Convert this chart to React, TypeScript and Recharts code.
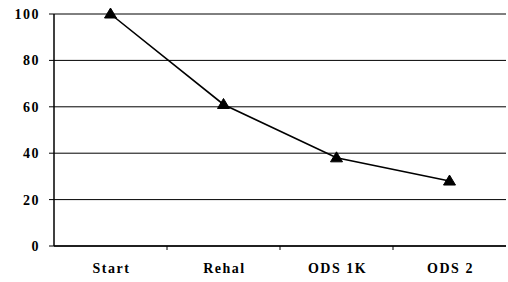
import { LineChart, Line, XAxis, YAxis, CartesianGrid } from 'recharts';

const stages = ['Start', 'Rehal', 'ODS 1K', 'ODS 2'];
const values = [100, 61, 38, 28];
const yTicks = [0, 20, 40, 60, 80, 100];

const chartData = stages.map((stage, i) => ({ stage, value: values[i] }));

const font = '"Liberation Serif", "Times New Roman", serif';
const WIDTH = 508;
const HEIGHT = 282;
const LEFT = 54;
const RIGHT = 2;
const halfBand = (WIDTH - LEFT - RIGHT) / stages.length / 2;

function Triangle(props: any) {
  const { cx, cy } = props;
  if (cx == null || cy == null) return null;
  return (
    <path
      d={`M${cx},${cy - 6} L${cx + 6},${cy + 4} L${cx - 6},${cy + 4} Z`}
      fill="#000"
      stroke="#000"
    />
  );
}

function StageTick(props: any) {
  const { x, y, payload, index } = props;
  const axisY = y - 7;
  return (
    <g>
      {index < stages.length - 1 && (
        <line x1={x + halfBand} y1={axisY} x2={x + halfBand} y2={axisY + 4} stroke="#000" />
      )}
      <text
        x={x + 1}
        y={axisY + 27}
        textAnchor="middle"
        style={{ fontFamily: font, fontWeight: 700, fontSize: 14, letterSpacing: 1.5 }}
        fill="#000"
      >
        {payload.value}
      </text>
    </g>
  );
}

export default function App() {
  return (
    <div style={{ position: 'absolute', left: 0, top: 0, background: '#fff' }}>
      <LineChart
        width={WIDTH}
        height={HEIGHT}
        data={chartData}
        margin={{ top: 14, right: RIGHT, bottom: 0, left: 0 }}
      >
        <CartesianGrid vertical={false} stroke="#000" strokeWidth={1} />
        <XAxis
          dataKey="stage"
          height={36}
          padding={{ left: halfBand, right: halfBand }}
          axisLine={{ stroke: '#000', strokeWidth: 1.5 }}
          tickLine={false}
          tickSize={5}
          tickMargin={2}
          interval={0}
          tick={<StageTick />}
        />
        <YAxis
          width={LEFT}
          domain={[0, 100]}
          ticks={yTicks}
          interval={0}
          axisLine={{ stroke: '#000', strokeWidth: 1.5 }}
          tickLine={{ stroke: '#000' }}
          tickSize={5}
          tickMargin={9}
          tick={{ fill: '#000', style: { fontFamily: font, fontWeight: 700, fontSize: 14, letterSpacing: 1.5 } }}
        />
        <Line
          type="linear"
          dataKey="value"
          stroke="#000"
          strokeWidth={1.6}
          dot={<Triangle />}
          activeDot={false}
          isAnimationActive={false}
        />
      </LineChart>
    </div>
  );
}
